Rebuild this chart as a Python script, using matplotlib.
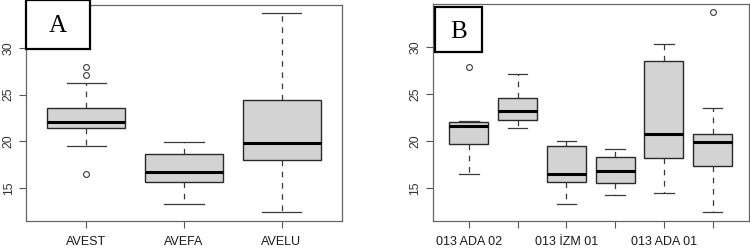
import matplotlib.pyplot as plt
import matplotlib.patches as patches

plt.rcParams['font.family'] = ['Liberation Sans', 'DejaVu Sans']

# panel A: per species
a_labels = ['AVEST', 'AVEFA', 'AVELU']
a_q1 = [21.39, 15.62, 18.04]
a_med = [22.06, 16.65, 19.86]
a_q3 = [23.59, 18.58, 24.38]
a_lo = [19.50, 13.24, 12.38]
a_hi = [26.19, 19.93, 33.74]
a_fliers = [[27.94, 27.15, 16.44], [], []]

# panel B: per population
b_labels = ['013 ADA 02', '', '013 İZM 01', '', '013 ADA 01', '']
b_q1 = [19.68, 22.21, 15.66, 15.48, 18.15, 17.37]
b_med = [21.60, 23.17, 16.48, 16.80, 20.78, 19.86]
b_q3 = [21.99, 24.59, 19.47, 18.29, 28.51, 20.71]
b_lo = [16.48, 21.42, 13.24, 14.23, 14.45, 12.38]
b_hi = [22.17, 27.12, 19.96, 19.15, 30.32, 23.52]
b_fliers = [[27.90], [], [], [], [], [33.74]]


def make_stats(q1, med, q3, lo, hi, fl):
    out = []
    for i in range(len(med)):
        out.append(dict(q1=q1[i], med=med[i], q3=q3[i], whislo=lo[i],
                        whishi=hi[i], fliers=fl[i]))
    return out


def draw(ax, stats, labels):
    n = len(stats)
    ax.bxp(stats, positions=range(1, n + 1), widths=0.8, patch_artist=True,
           showfliers=True,
           boxprops=dict(facecolor='#d3d3d3', edgecolor='#2a2a2a', linewidth=1.0),
           medianprops=dict(color='black', linewidth=2.2, solid_capstyle='butt'),
           whiskerprops=dict(color='#3a3a3a', linewidth=0.9, linestyle=(0, (4.5, 4.5))),
           capprops=dict(color='#3a3a3a', linewidth=0.9),
           capwidths=0.4,
           flierprops=dict(marker='o', markerfacecolor='none',
                           markeredgecolor='#3a3a3a', markersize=4.2,
                           markeredgewidth=0.8))
    ax.set_xlim(0.5 - 0.04 * n, n + 0.5 + 0.04 * n)
    ax.set_ylim(11.45, 34.6)
    ax.set_xticks(range(1, n + 1))
    ax.set_xticklabels(labels, fontsize=9, color='#1a1a1a')
    ax.set_yticks([15, 20, 25, 30])
    ax.set_yticklabels(['15', '20', '25', '30'], fontsize=8.8, color='#333333',
                       rotation=90, va='center')
    ax.tick_params(axis='both', length=5, width=0.8, color='#555555', pad=3)
    ax.tick_params(axis='x', pad=5.5)
    for s in ax.spines.values():
        s.set_color('#666666')
        s.set_linewidth(0.9)


fig = plt.figure(figsize=(7.5, 2.49), dpi=100)
ax1 = fig.add_axes([26 / 750, 1 - 221 / 249, 316 / 750, 216 / 249])
ax2 = fig.add_axes([432.7 / 750, 1 - 221 / 249, 316 / 750, 216.7 / 249])

draw(ax1, make_stats(a_q1, a_med, a_q3, a_lo, a_hi, a_fliers), a_labels)
draw(ax2, make_stats(b_q1, b_med, b_q3, b_lo, b_hi, b_fliers), b_labels)

# panel letters
for x0, y0, w, h, letter in [(26, 0, 64, 49, 'A'), (435, 6.7, 47, 45.6, 'B')]:
    rect = patches.Rectangle((x0 / 750, 1 - (y0 + h) / 249), w / 750, h / 249,
                             transform=fig.transFigure, facecolor='white',
                             edgecolor='black', linewidth=1.6, zorder=10)
    fig.add_artist(rect)
    fig.text((x0 + w / 2) / 750, 1 - (y0 + h / 2 + 2) / 249, letter,
             family='Liberation Serif', fontsize=18, ha='center', va='center',
             zorder=11)

fig.savefig('out.png', dpi=100)
